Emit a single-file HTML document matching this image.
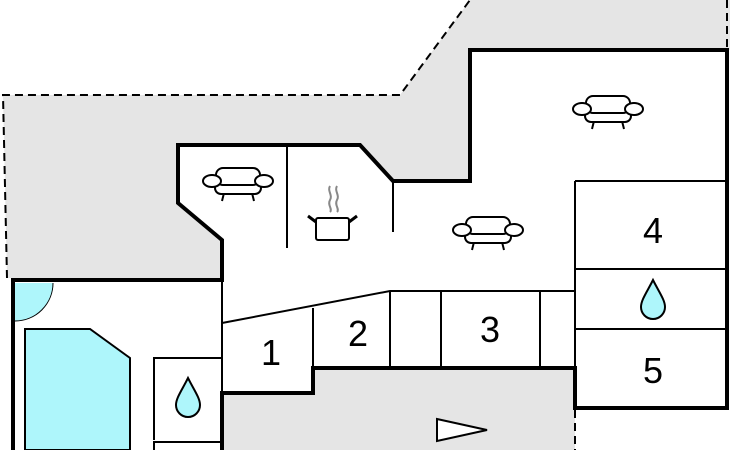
<!DOCTYPE html>
<html><head><meta charset="utf-8"><style>html,body{margin:0;padding:0;background:#fff}svg{display:block}</style></head>
<body>
<svg width="730" height="450" viewBox="0 0 730 450" xmlns="http://www.w3.org/2000/svg">
<defs>
<g id="sofa" fill="#fff" stroke="#000" stroke-width="2">
<line x1="-14" y1="8" x2="-16" y2="16"/><line x1="14" y1="8" x2="16" y2="16"/>
<rect x="-23" y="-4" width="46" height="13" rx="6"/>
<rect x="-22" y="-17" width="44" height="17" rx="7"/>
<ellipse cx="-26" cy="-4" rx="9" ry="6"/><ellipse cx="26" cy="-4" rx="9" ry="6"/>
</g>
<g id="drop"><path d="M0,-20 C-6,-8 -12,0 -12,7 A12,12 0 0 0 12,7 C12,0 6,-8 0,-20 Z" fill="#aef6fb" stroke="#000" stroke-width="2"/></g>
</defs>
<path d="M7,278 L3,95 L400,95 L470,0 L730,0 L730,50 L470,50 L470,181 L393,181 L360,145 L178,145 L178,203 L222,240 L222,280 Z" fill="#e5e5e5"/>
<path d="M222,393 L313,393 L313,368 L575,368 L575,450 L222,450 Z" fill="#e5e5e5"/>
<g fill="none" stroke="#000" stroke-width="2" stroke-dasharray="8,5">
<path d="M7,278 L3,95 L400,95 L470,0"/>
<path d="M727,0 L727,50"/>
<path d="M575,410 L575,450"/>
</g>
<path d="M25,329 L90,329 L130,358 L130,450 L25,450 Z" fill="#aef6fb" stroke="#000" stroke-width="2"/>
<path d="M15,283 L53,283 A38,38 0 0 1 15,321 Z" fill="#aef6fb"/>
<path d="M53,283 A38,38 0 0 1 15,321" fill="none" stroke="#000" stroke-width="1"/>
<g fill="none" stroke="#000" stroke-width="2">
<path d="M287,145 L287,248"/>
<path d="M393,181 L393,232"/>
<path d="M575,181 L575,368"/>
<path d="M575,181 L727,181 M575,269 L727,269 M575,329 L727,329"/>
<path d="M222,323 L390,291 L575,291"/>
<path d="M313,308 L313,368 M390,291 L390,368 M441,291 L441,368 M540,291 L540,368"/>
<path d="M222,280 L222,393"/>
<path d="M154,440 L154,358 L222,358 M154,450 L154,442 L222,442"/>
<path d="M437,419 L487,430 L437,441 Z" fill="#fff"/>
</g>
<g fill="none" stroke="#000" stroke-width="4" stroke-linejoin="miter">
<path d="M13,450 L13,280 L222,280 L222,240 L178,203 L178,145 L360,145 L393,181 L470,181 L470,50 L727,50 L727,408 L575,408 L575,368 L313,368 L313,393 L222,393 L222,450"/>
</g>
<use href="#sofa" x="608" y="113"/>
<use href="#sofa" x="238" y="185"/>
<use href="#sofa" x="488" y="234"/>
<use href="#drop" x="653" y="300"/>
<use href="#drop" x="188" y="398"/>
<g fill="none" stroke-width="2">
<path d="M330,186 c-3,5 3,9 0,14 c-3,5 3,9 0,12 M337,186 c-3,5 3,9 0,14 c-3,5 3,9 0,12" stroke="#888"/>
<rect x="316" y="218" width="33" height="22" rx="2" fill="#fff" stroke="#000"/>
<path d="M316,222 L308,216 M349,222 L357,216" stroke="#000" stroke-width="3"/>
</g>
<g font-family="Liberation Sans, sans-serif" font-size="36" text-anchor="middle">
<text x="271" y="365">1</text>
<text x="358" y="346">2</text>
<text x="490" y="342">3</text>
<text x="653" y="243">4</text>
<text x="653" y="383">5</text>
</g>
</svg>
</body></html>
